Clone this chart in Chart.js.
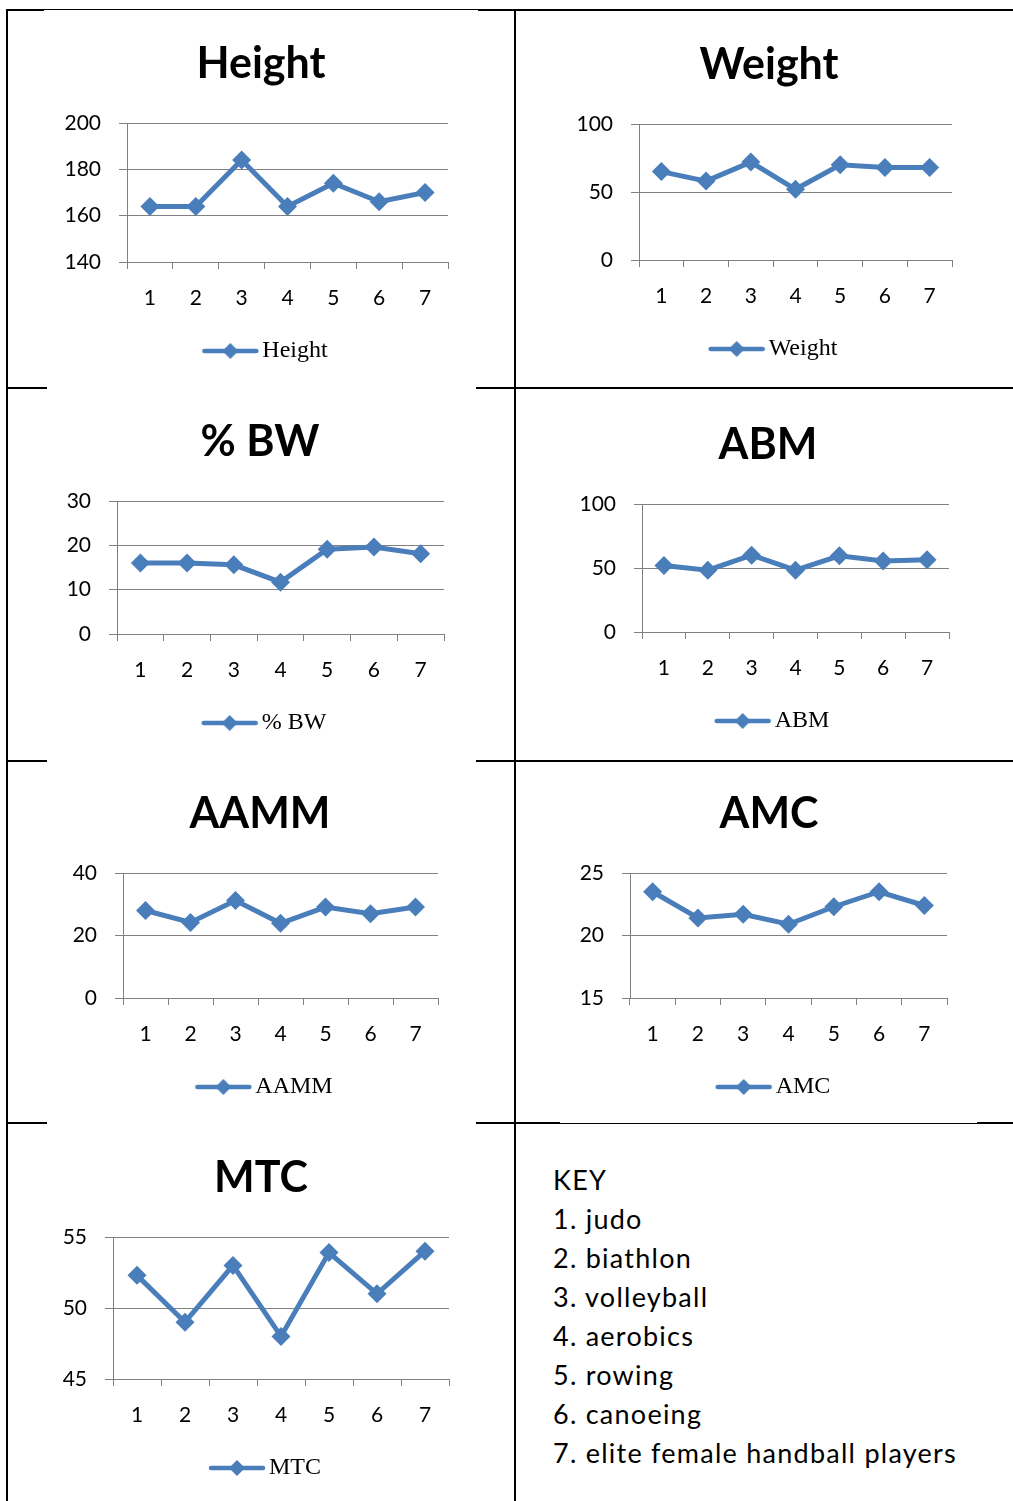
<!DOCTYPE html>
<html>
<head>
<meta charset="utf-8">
<script src="https://cdn.jsdelivr.net/npm/chart.js@4.4.0/dist/chart.umd.min.js"></script>
<style>
  body { margin: 0; background: #fff; }
  #page { position: relative; width: 1013px; height: 1501px; overflow: hidden; background: #fff; }
  .ln { position: absolute; background: #000; }
  #key { position: absolute; left: 553px; top: 1160px; font-family: Lato, sans-serif; font-size: 27px; letter-spacing: 1.25px; line-height: 39px; color: #000; }
</style>
</head>
<body>
<div id="page">
  <!-- table rules -->
  <div class="ln" style="left:6px;top:9px;width:2px;height:1492px"></div>
  <div class="ln" style="left:514px;top:9px;width:2px;height:1492px"></div>
  <div class="ln" style="left:6px;top:9px;width:38px;height:2px"></div>
  <div class="ln" style="left:44px;top:9px;width:434px;height:1px"></div>
  <div class="ln" style="left:478px;top:9px;width:535px;height:2px"></div>
  <div class="ln" style="left:6px;top:387px;width:41px;height:2px"></div>
  <div class="ln" style="left:476px;top:387px;width:537px;height:2px"></div>
  <div class="ln" style="left:6px;top:760px;width:41px;height:2px"></div>
  <div class="ln" style="left:476px;top:760px;width:537px;height:2px"></div>
  <div class="ln" style="left:6px;top:1122px;width:41px;height:2px"></div>
  <div class="ln" style="left:476px;top:1122px;width:84px;height:2px"></div>
  <div class="ln" style="left:560px;top:1123px;width:417px;height:1px"></div>
  <div class="ln" style="left:977px;top:1122px;width:36px;height:2px"></div>
  <div id="key"></div>
</div>
<script>
// sports groups 1..7
const groups = ['1', '2', '3', '4', '5', '6', '7'];
const groupNames = ['judo', 'biathlon', 'volleyball', 'aerobics', 'rowing', 'canoeing', 'elite female handball players'];

const heightVals = [164, 164, 184, 164, 174, 166, 170];
const weightVals = [65, 58, 72, 52, 70, 68, 68];
const bwVals     = [16, 16, 15.6, 11.7, 19.1, 19.6, 18.1];
const abmVals    = [52, 48.3, 60, 48.3, 59.5, 55.4, 56.4];
const aammVals   = [28, 24.2, 31.2, 23.9, 29.1, 27, 29.1];
const amcVals    = [23.5, 21.4, 21.7, 20.9, 22.3, 23.5, 22.4];
const mtcVals    = [52.3, 49, 53, 48, 53.9, 51, 54];

// y axis: [min, max, step]
const heightAxis = [140, 200, 20];
const weightAxis = [0, 100, 50];
const bwAxis     = [0, 30, 10];
const abmAxis    = [0, 100, 50];
const aammAxis   = [0, 40, 20];
const amcAxis    = [15, 25, 5];
const mtcAxis    = [45, 55, 5];

const BLUE = '#4a7ebb';
const GRAY = '#808080';
const page = document.getElementById('page');

// panel placement: title centre, plot left/right/top/bottom on the page
const panels = [
  { title: 'Height', vals: heightVals, axis: heightAxis, cx: 261, L: 127, R: 448, T: 123, B: 262 },
  { title: 'Weight', vals: weightVals, axis: weightAxis, cx: 769, L: 639, R: 952, T: 124, B: 260 },
  { title: '% BW',   vals: bwVals,     axis: bwAxis,     cx: 260, L: 117, R: 444, T: 501, B: 634 },
  { title: 'ABM',    vals: abmVals,    axis: abmAxis,    cx: 768, L: 642, R: 949, T: 504, B: 632 },
  { title: 'AAMM',   vals: aammVals,   axis: aammAxis,   cx: 260, L: 123, R: 438, T: 873, B: 998 },
  { title: 'AMC',    vals: amcVals,    axis: amcAxis,    cx: 769, L: 630, R: 947, T: 873, B: 998 },
  { title: 'MTC',    vals: mtcVals,    axis: mtcAxis,    cx: 261, L: 113, R: 449, T: 1237, B: 1379 }
];

// line-with-diamond glyph for the legend (left side left blank so it sits nearer the text)
function legendGlyph() {
  const c = document.createElement('canvas');
  c.width = 74; c.height = 20;
  const g = c.getContext('2d');
  g.strokeStyle = BLUE; g.lineWidth = 4.5; g.lineCap = 'round';
  g.beginPath(); g.moveTo(19, 10); g.lineTo(71, 10); g.stroke();
  g.fillStyle = BLUE;
  g.beginPath(); g.moveTo(45, 2); g.lineTo(53, 10); g.lineTo(45, 18); g.lineTo(37, 10); g.closePath(); g.fill();
  return c;
}
const glyph = legendGlyph();

const TITLE_H = 111, TITLE_TOP = 26, XAXIS_H = 50, LEGEND_FONT = 24, LEGEND_PAD = 27, PAD_BOTTOM = 8;

function makePanel(p) {
  const W = 430;
  const left = p.cx - W / 2;
  const top = p.T - TITLE_H;
  const legendH = LEGEND_FONT + LEGEND_PAD + 10;
  const h = TITLE_H + (p.B - p.T) + XAXIS_H + legendH + PAD_BOTTOM;

  const cv = document.createElement('canvas');
  cv.width = W; cv.height = h;
  cv.style.position = 'absolute';
  cv.style.left = left + 'px';
  cv.style.top = top + 'px';
  page.appendChild(cv);

  new Chart(cv, {
    type: 'line',
    data: {
      labels: groups,
      datasets: [{
        label: p.title,
        data: p.vals,
        borderColor: BLUE,
        backgroundColor: BLUE,
        borderWidth: 5,
        pointStyle: 'rectRot',
        pointRadius: 9.5,
        pointBorderWidth: 0,
        pointBackgroundColor: BLUE,
        tension: 0,
        fill: false
      }]
    },
    options: {
      responsive: false,
      animation: false,
      layout: { padding: { left: 0, right: 0, top: 0, bottom: PAD_BOTTOM } },
      plugins: {
        tooltip: { enabled: false },
        title: {
          display: true,
          text: p.title,
          color: '#000',
          font: { family: 'Lato', size: 43, weight: 'bold', lineHeight: 1.2 },
          padding: { top: TITLE_TOP, bottom: TITLE_H - TITLE_TOP - 43 * 1.2 }
        },
        legend: {
          display: true,
          position: 'bottom',
          labels: {
            usePointStyle: true,
            pointStyle: glyph,
            pointStyleWidth: 56,
            padding: LEGEND_PAD,
            color: '#000',
            font: { family: 'Liberation Serif', size: LEGEND_FONT }
          }
        }
      },
      scales: {
        x: {
          offset: true,
          grid: { offset: true, drawOnChartArea: false, drawTicks: true, tickLength: 7, color: GRAY, lineWidth: 1 },
          border: { display: true, color: GRAY, width: 1 },
          ticks: { color: '#000', font: { family: 'Lato', size: 21 }, padding: 17, maxRotation: 0 },
          afterFit: s => { s.height = XAXIS_H; }
        },
        y: {
          min: p.axis[0],
          max: p.axis[1],
          ticks: { stepSize: p.axis[2], color: '#000', font: { family: 'Lato', size: 21 }, padding: 18 },
          grid: { color: GRAY, lineWidth: 1, tickLength: 8 },
          border: { display: true, color: GRAY, width: 1 },
          afterFit: s => { s.width = p.L - left; }
        },
        // empty strip on the right so the title stays centred on the whole panel
        side: {
          position: 'right',
          display: true,
          grid: { display: false },
          border: { display: false },
          ticks: { display: false },
          afterFit: s => { s.width = left + W - p.R; }
        }
      }
    }
  });
}

panels.forEach(makePanel);

const key = document.getElementById('key');
key.innerHTML = ['KEY'].concat(groupNames.map((n, i) => groups[i] + '. ' + n)).map(t => '<div>' + t + '</div>').join('');
</script>
</body>
</html>
